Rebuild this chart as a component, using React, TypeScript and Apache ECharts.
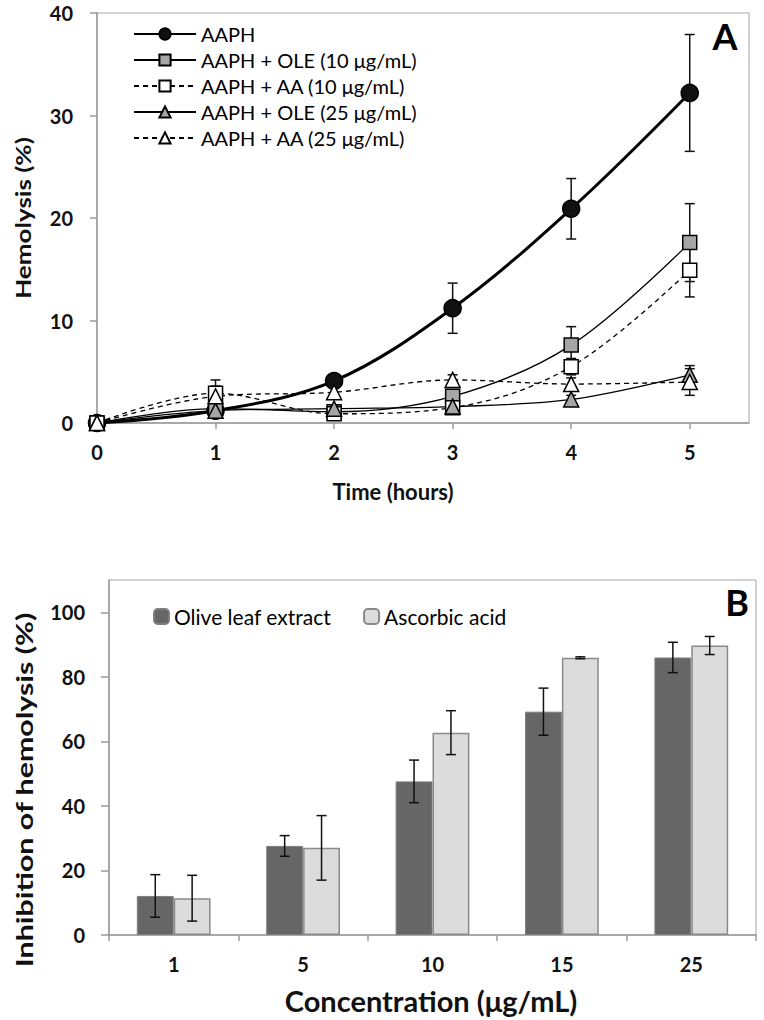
import React, { useEffect, useRef } from 'react';
import * as echarts from 'echarts';

// ---- Panel A: hemolysis over time ----
const hours = [0, 1, 2, 3, 4, 5];
const aaph = [0, 1.2, 4.1, 11.2, 20.9, 32.2];
const aaphErr = [0, 0.3, 0.4, 2.45, 2.95, 5.7];
const ole10 = [0, 1.4, 1.1, 2.6, 7.6, 17.6];
const ole10Err = [0, 0.4, 0.3, 0.5, 1.8, 3.8];
const aa10 = [0, 2.9, 0.9, 1.5, 5.5, 14.9];
const aa10Err = [0, 1.3, 0.3, 0.4, 0.8, 2.6];
const ole25 = [0, 1.2, 1.4, 1.6, 2.3, 4.7];
const ole25Err = [0, 0.3, 0.3, 0.3, 0.4, 0.9];
const aa25 = [0, 2.6, 3.0, 4.2, 3.8, 4.0];
const aa25Err = [0, 1.0, 0.5, 0.5, 0.6, 1.3];
const hourTicks = [0, 1, 2, 3, 4, 5];
const hemolysisTicks = [0, 10, 20, 30, 40];

// ---- Panel B: inhibition of hemolysis ----
const concentrations = ['1', '5', '10', '15', '25'];
const oleInhib = [12.1, 27.6, 47.6, 69.2, 86.0];
const oleInhibErr = [6.6, 3.2, 6.6, 7.3, 4.7];
const aaInhib = [11.4, 27.0, 62.7, 85.9, 89.7];
const aaInhibErr = [7.1, 10.0, 6.8, 0.3, 2.8];
const inhibTicks = [0, 20, 40, 60, 80, 100];

const FONT = 'Lato';
const AXIS_GRAY = '#9a9a9a';

function errorSeries(xIdx: number, yIdx: number, xs: any[], ys: number[], es: number[], offsetFrac: number) {
  return {
    type: 'custom',
    xAxisIndex: xIdx,
    yAxisIndex: yIdx,
    z: 2,
    silent: true,
    encode: { x: 0, y: 1 },
    data: xs.map((x, i) => [x, ys[i], es[i]]),
    renderItem: (params: any, api: any) => {
      const x = api.value(0);
      const y = api.value(1);
      const e = api.value(2);
      const band = api.size([1, 0])[0];
      const dx = offsetFrac * band;
      const top = api.coord([x, y + e]);
      const bot = api.coord([x, y - e]);
      const cx = top[0] + dx;
      const hw = 5;
      const st = { stroke: '#111', lineWidth: 1.5 };
      return {
        type: 'group',
        children: [
          { type: 'line', shape: { x1: cx, y1: top[1], x2: cx, y2: bot[1] }, style: st },
          { type: 'line', shape: { x1: cx - hw, y1: top[1], x2: cx + hw, y2: top[1] }, style: st },
          { type: 'line', shape: { x1: cx - hw, y1: bot[1], x2: cx + hw, y2: bot[1] }, style: st },
        ],
      };
    },
  };
}

function lineSeries(name: string, ys: number[], symbol: string, size: number, fill: string, width: number, dashed: boolean) {
  return {
    name,
    type: 'line',
    xAxisIndex: 0,
    yAxisIndex: 0,
    z: 3,
    data: hours.map((h, i) => [h, ys[i]]),
    smooth: 0.35,
    symbol,
    symbolSize: size,
    showAllSymbol: true,
    lineStyle: { color: '#000', width, type: dashed ? [5, 4] : 'solid' },
    itemStyle: { color: fill, borderColor: '#000', borderWidth: 1.5 },
  };
}

export default function App() {
  const ref = useRef<HTMLDivElement>(null);
  useEffect(() => {
    if (!ref.current) return;
    const chart = echarts.init(ref.current, undefined, { renderer: 'svg' });
    const barFrac = (1 - 0.43) / 2; // each bar's share of a band
    const tickLabel = { fontSize: 20, lineHeight: 18, fontWeight: 'bold', color: '#111', fontFamily: FONT };
    const option: any = {
      animation: false,
      backgroundColor: '#fff',
      textStyle: { fontFamily: FONT },
      grid: [
        { left: 97, top: 13, right: 15, height: 410, show: true, borderColor: '#a6a6a6', borderWidth: 1 },
        { left: 109, top: 580, right: 8, height: 355, show: true, borderColor: '#a6a6a6', borderWidth: 1 },
      ],
      xAxis: [
        {
          type: 'value', gridIndex: 0, min: 0, max: 5.5, interval: 1,
          axisLine: { show: true, onZero: false, lineStyle: { color: AXIS_GRAY, width: 1.5 } },
          axisTick: { show: true, inside: false, length: 6, lineStyle: { color: AXIS_GRAY, width: 1.5 }, customValues: hourTicks },
          axisLabel: { ...tickLabel, customValues: hourTicks, margin: 20 },
          splitLine: { show: false },
        },
        {
          type: 'category', gridIndex: 1, data: concentrations, boundaryGap: true,
          axisLine: { show: true, lineStyle: { color: AXIS_GRAY, width: 1.5 } },
          axisTick: { show: true, inside: false, length: 6, alignWithLabel: false, lineStyle: { color: AXIS_GRAY, width: 1.5 } },
          axisLabel: { ...tickLabel, margin: 20 },
          splitLine: { show: false },
        },
      ],
      yAxis: [
        {
          type: 'value', gridIndex: 0, min: 0, max: 40, interval: 10,
          axisLine: { show: true, lineStyle: { color: AXIS_GRAY, width: 1.5 } },
          axisTick: { show: true, inside: false, length: 7, lineStyle: { color: AXIS_GRAY, width: 1.5 }, customValues: hemolysisTicks },
          axisLabel: { ...tickLabel, customValues: hemolysisTicks, margin: 24 },
          splitLine: { show: false },
        },
        {
          type: 'value', gridIndex: 1, min: 0, max: 110, interval: 20,
          axisLine: { show: true, lineStyle: { color: AXIS_GRAY, width: 1.5 } },
          axisTick: { show: true, inside: false, length: 8, lineStyle: { color: AXIS_GRAY, width: 1.5 }, customValues: inhibTicks },
          axisLabel: { ...tickLabel, customValues: inhibTicks, margin: 24 },
          splitLine: { show: false },
        },
      ],
      legend: [
        {
          orient: 'vertical', left: 133, top: 24, padding: 0, itemWidth: 62, itemHeight: 14, itemGap: 6,
          textStyle: { fontSize: 20, lineHeight: 20, fontFamily: FONT, color: '#000' },
          data: ['AAPH', 'AAPH + OLE (10 μg/mL)', 'AAPH + AA (10 μg/mL)', 'AAPH + OLE (25 μg/mL)', 'AAPH + AA (25 μg/mL)'],
        },
        {
          orient: 'horizontal', left: 153, top: 606, padding: 0, itemWidth: 15, itemHeight: 15, itemGap: 32,
          textStyle: { fontSize: 21, lineHeight: 21, fontFamily: FONT, color: '#000' },
          data: ['Olive leaf extract', 'Ascorbic acid'],
        },
      ],
      series: [
        errorSeries(0, 0, hours, aaph, aaphErr, 0),
        errorSeries(0, 0, hours, ole10, ole10Err, 0),
        errorSeries(0, 0, hours, aa10, aa10Err, 0),
        errorSeries(0, 0, hours, ole25, ole25Err, 0),
        errorSeries(0, 0, hours, aa25, aa25Err, 0),
        lineSeries('AAPH', aaph, 'circle', 17, '#111', 3, false),
        lineSeries('AAPH + OLE (10 μg/mL)', ole10, 'rect', 14, '#a6a6a6', 1.3, false),
        lineSeries('AAPH + AA (10 μg/mL)', aa10, 'rect', 14, '#ffffff', 1.3, true),
        lineSeries('AAPH + OLE (25 μg/mL)', ole25, 'triangle', 15, '#a6a6a6', 1.3, false),
        lineSeries('AAPH + AA (25 μg/mL)', aa25, 'triangle', 15, '#ffffff', 1.3, true),
        {
          name: 'Olive leaf extract', type: 'bar', xAxisIndex: 1, yAxisIndex: 1,
          data: oleInhib, barGap: '0%', barCategoryGap: '43%', z: 1,
          itemStyle: { color: '#666666', borderColor: '#7f7f7f', borderWidth: 1 },
        },
        {
          name: 'Ascorbic acid', type: 'bar', xAxisIndex: 1, yAxisIndex: 1,
          data: aaInhib, barGap: '0%', barCategoryGap: '43%', z: 1,
          itemStyle: { color: '#dcdcdc', borderColor: '#8a8a8a', borderWidth: 1.5 },
        },
        errorSeries(1, 1, concentrations.map((_, i) => i), oleInhib, oleInhibErr, -barFrac / 2),
        errorSeries(1, 1, concentrations.map((_, i) => i), aaInhib, aaInhibErr, barFrac / 2),
      ],
      graphic: [
        { type: 'text', x: 725, y: 36, style: { text: 'A', font: `bold 36px ${FONT}`, fill: '#000', align: 'center', verticalAlign: 'middle' } },
        { type: 'text', x: 737, y: 602, style: { text: 'B', font: `bold 36px ${FONT}`, fill: '#000', align: 'center', verticalAlign: 'middle' } },
        { type: 'text', x: 23, y: 218, rotation: Math.PI / 2, scaleX: 1.24, style: { text: 'Hemolysis (%)', font: `bold 21px ${FONT}`, fill: '#111', align: 'center', verticalAlign: 'middle' } },
        { type: 'text', x: 393, y: 491, style: { text: 'Time (hours)', font: `bold 22px ${FONT}`, fill: '#111', align: 'center', verticalAlign: 'middle' } },
        { type: 'text', x: 25, y: 790, rotation: Math.PI / 2, scaleX: 1.38, style: { text: 'Inhibition of hemolysis (%)', font: `bold 22px ${FONT}`, fill: '#111', align: 'center', verticalAlign: 'middle' } },
        { type: 'text', x: 431, y: 1000, style: { text: 'Concentration (μg/mL)', font: `bold 29px ${FONT}`, fill: '#111', align: 'center', verticalAlign: 'middle' } },
      ],
    };
    chart.setOption(option);
    return () => chart.dispose();
  }, []);
  return <div ref={ref} style={{ position: 'absolute', left: 0, top: 0, width: 764, height: 1020 }} />;
}
